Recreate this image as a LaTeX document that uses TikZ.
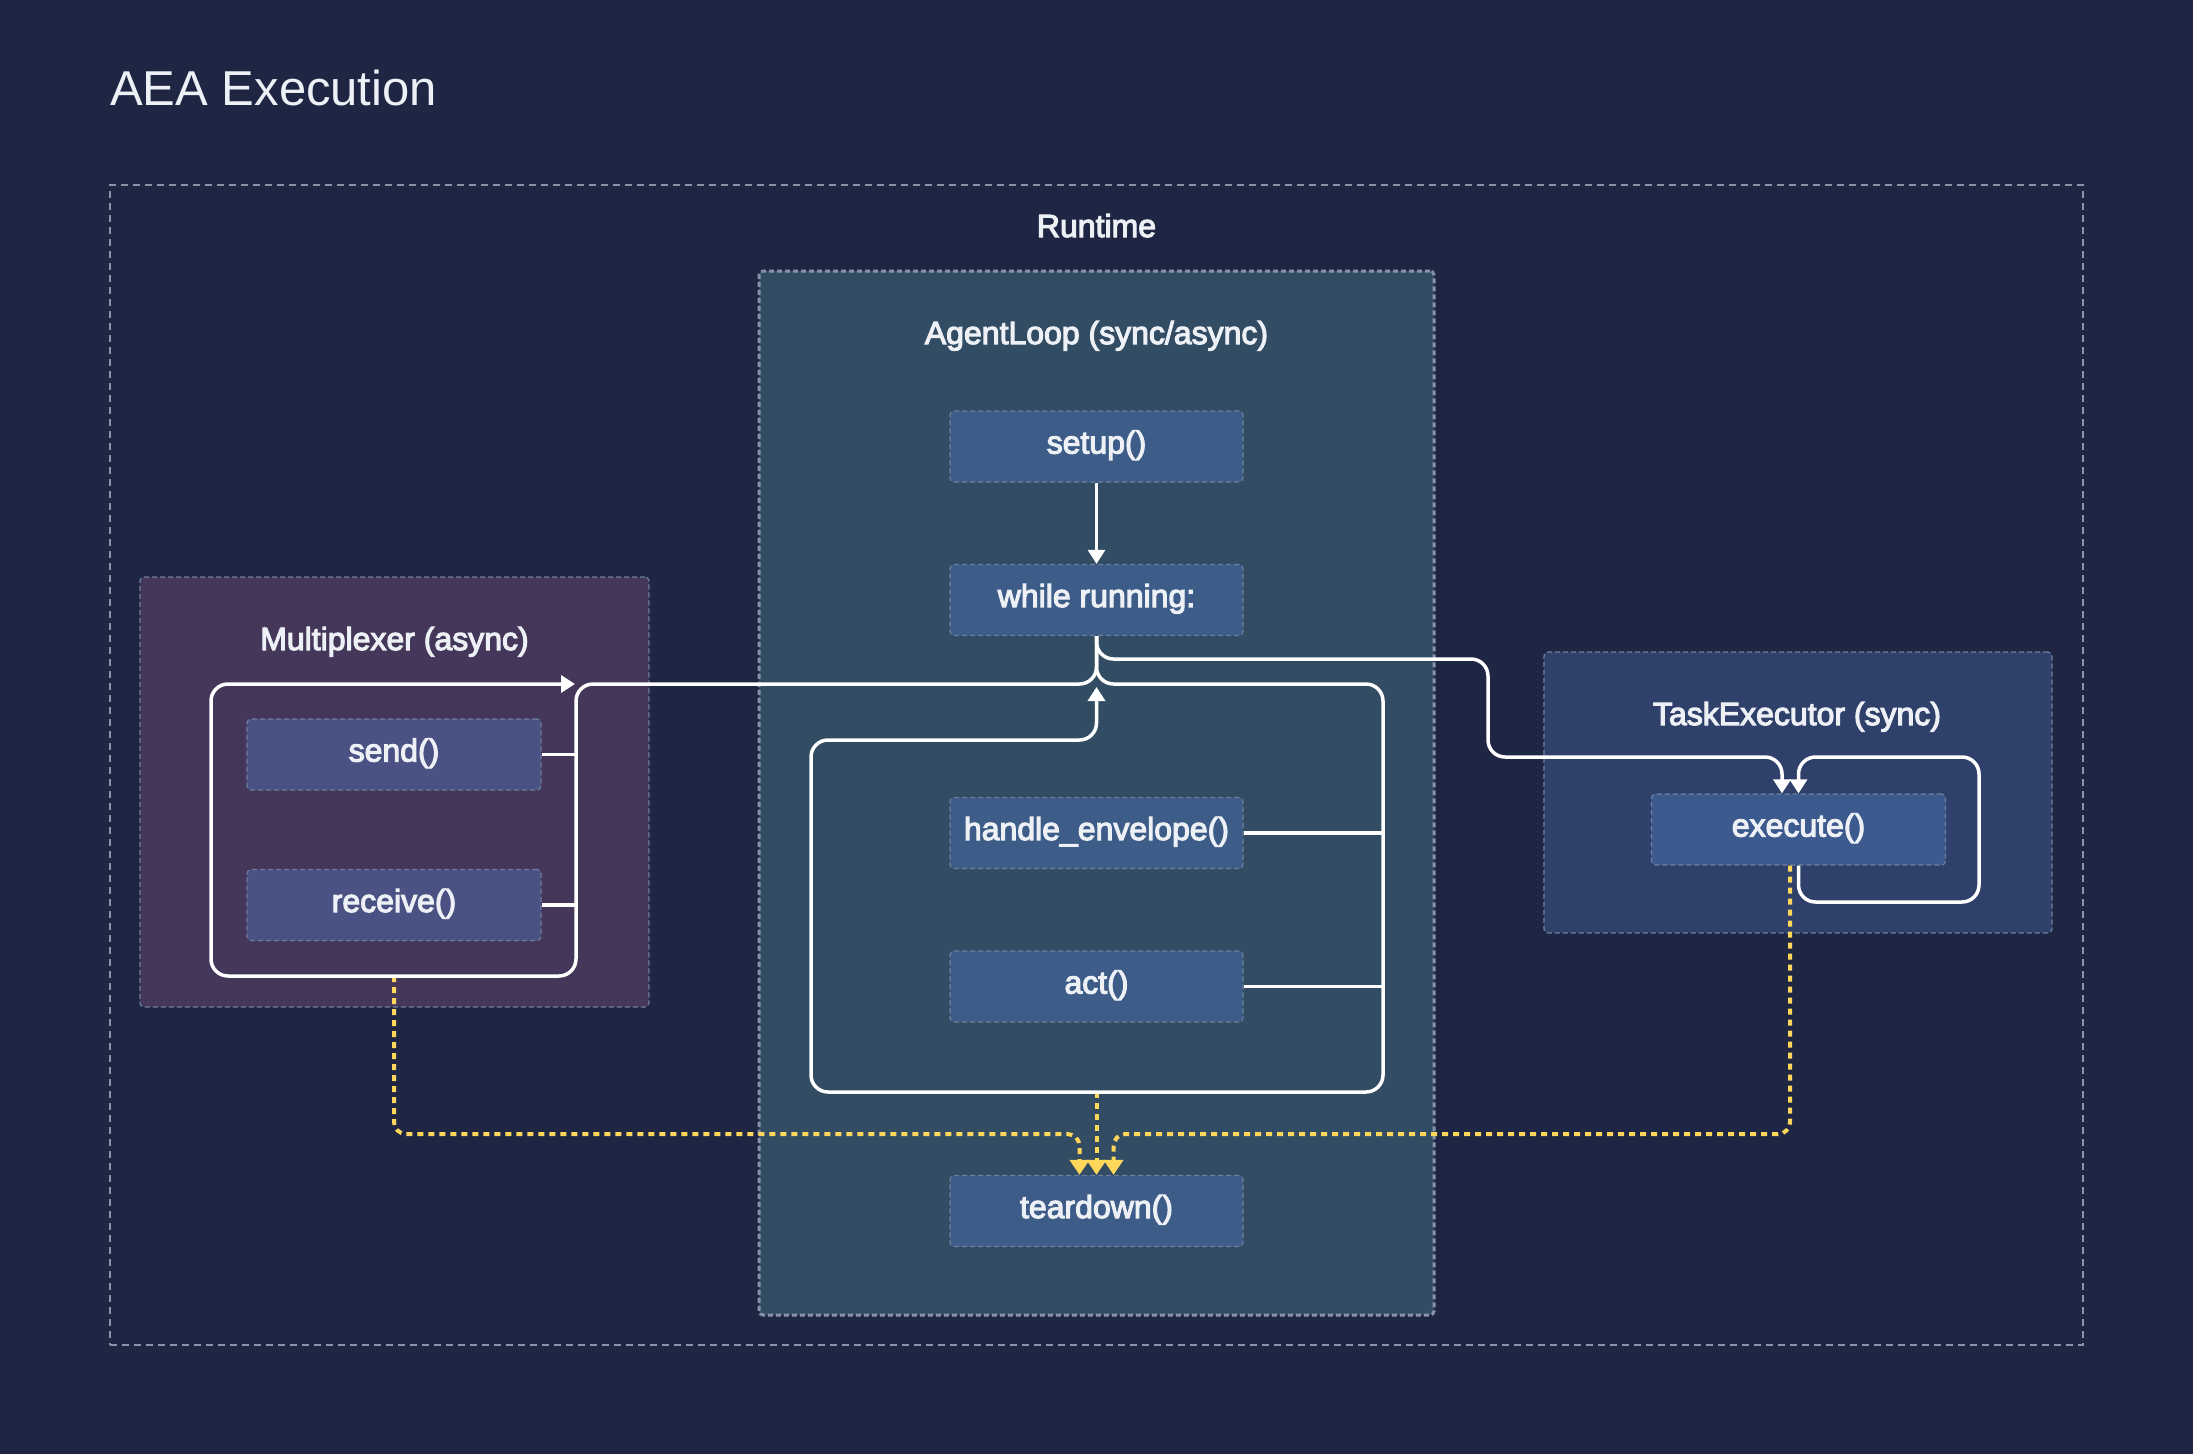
\documentclass[tikz,border=0pt]{standalone}
\usepackage{fontspec}
\setmainfont{Liberation Sans}
\newfontfamily\lblfont[FakeBold=3.5]{Liberation Sans}
\usetikzlibrary{arrows.meta,calc}
\definecolor{bgc}{HTML}{1E2643}
\definecolor{txtc}{HTML}{EDF0F5}
\definecolor{grayln}{HTML}{8A93A7}
\definecolor{boxln}{HTML}{6E7F9E}
\definecolor{alfill}{HTML}{324C63}
\definecolor{fnfill}{HTML}{3D5C88}
\definecolor{muxfill}{HTML}{44375A}
\definecolor{muxfn}{HTML}{4A5183}
\definecolor{tefill}{HTML}{2F416B}
\definecolor{tefn}{HTML}{3C5A8E}
\definecolor{yel}{HTML}{FFD75A}
\tikzset{
  fnbox/.style={rectangle, rounded corners=4pt, draw=boxln, line width=1.2pt,
    dash pattern=on 5pt off 3pt, fill=fnfill, minimum width=293pt, minimum height=71pt,
    text=txtc, font=\lblfont\fontsize{32}{38}\selectfont, inner sep=0pt,
    text height=23pt, text depth=9pt},
  container/.style={rectangle, rounded corners=4pt, draw=boxln, line width=1.2pt,
    dash pattern=on 5pt off 3pt, inner sep=0pt},
  lbl/.style={text=txtc, font=\lblfont\fontsize{32}{38}\selectfont, inner sep=0pt, anchor=base},
  flow/.style={draw=white, line width=3.5pt, rounded corners=17pt},
  ydot/.style={draw=yel, line width=4pt, dash pattern=on 6pt off 5pt, rounded corners=12pt},
  wtip/.style={-{Triangle[width=17pt,length=14pt]}},
  ytip/.style={-{Triangle[width=19pt,length=15pt,fill=yel]}}
}
\begin{document}
\begin{tikzpicture}[x=1pt,y=-1pt]
\fill[bgc] (0,0) rectangle (2193,1454);
\useasboundingbox (0,0) rectangle (2193,1454);

\node[anchor=west, text=txtc, font=\fontsize{49}{58}\selectfont, inner sep=0pt] (title) at (110,88) {AEA Execution};

% containers
\node[rectangle, draw=grayln, line width=1.5pt, dash pattern=on 7pt off 5pt,
  minimum width=1973pt, minimum height=1160pt, inner sep=0pt] (runtime) at (1096.5,765) {};
\node[lbl] (runtimelbl) at (1096.5,237) {Runtime};

\node[rectangle, rounded corners=4pt, fill=alfill, draw=grayln, line width=3pt,
  dash pattern=on 5pt off 3pt, minimum width=675pt, minimum height=1044pt, inner sep=0pt]
  (agentloop) at (1096.5,793) {};
\node[lbl] (agentlooplbl) at (1096.5,344) {AgentLoop (sync/async)};

\node[container, fill=muxfill, minimum width=509pt, minimum height=430pt] (mux) at (394.5,792) {};
\node[lbl] (muxlbl) at (394.5,650) {Multiplexer (async)};

\node[container, fill=tefill, minimum width=508pt, minimum height=281pt] (te) at (1798,792.5) {};
\node[lbl] (telbl) at (1797,725) {TaskExecutor (sync)};

% function boxes
\node[fnbox] (setup) at (1096.5,446.5) {setup()};
\node[fnbox] (while) at (1096.5,600) {while running:};
\node[fnbox] (handle) at (1096.5,833) {handle\_envelope()};
\node[fnbox] (act) at (1096.5,986.5) {act()};
\node[fnbox] (teardown) at (1096.5,1211) {teardown()};
\node[fnbox, fill=muxfn, minimum width=294pt] (send) at (394,754.5) {send()};
\node[fnbox, fill=muxfn, minimum width=294pt] (receive) at (394,905) {receive()};
\node[fnbox, fill=tefn, minimum width=294pt] (execute) at (1798.5,829.5) {execute()};

% loop coordinates
\coordinate (mxTR) at (576,684);
\coordinate (mxBR) at (576,976);
\coordinate (mxBL) at (211,976);
\coordinate (mxTL) at (211,684);
\coordinate (jA) at (1096.5,684);
\coordinate (alTR) at (1383,684);
\coordinate (alBR) at (1383,1092);
\coordinate (alBL) at (811,1092);
\coordinate (alTL) at (811,740);
\coordinate (alRet) at (1096.5,740);
\coordinate (jT) at (1096.5,659);
\coordinate (tA) at (1488,659);
\coordinate (tB) at (1488,757);
\coordinate (exIn) at (1782,757);
\coordinate (exBR) at (1979,902);
\coordinate (exTR) at (1979,757);
\coordinate (ydY) at (0,1134);
\coordinate (tdL) at ($(teardown.north)+(-17,0)$);
\coordinate (tdR) at ($(teardown.north)+(17,0)$);
\coordinate (exOut) at ($(execute.south)+(-8.5,0)$);
\coordinate (exArr) at ($(execute.north)+(-16.5,0)$);
\coordinate (alTop) at ($(jA)+(0,3)$);

% yellow dotted connectors
\draw[ydot, ytip] (receive.south |- mxBL) -- (receive.south |- ydY) -- (tdL |- ydY) -- (tdL);
\draw[ydot, ytip] (teardown.north |- alBL) -- (teardown.north);
\draw[ydot, ytip] (exOut) -- (exOut |- ydY) -- (tdR |- ydY) -- (tdR);

% white flows
\draw[draw=white, line width=2.8pt, wtip] (setup.south) -- (while.north);
\draw[flow, wtip] (while.south) -- (jA) -- (mxTR) -- (mxBR) -- (mxBL) -- (mxTL) -- ($(mxTR)+(-1,0)$);
\draw[flow, wtip] (while.south) -- (jA) -- (alTR) -- (alBR) -- (alBL) -- (alTL) -- (alRet) -- (alTop);
\draw[flow, wtip] (while.south) -- (jT) -- (tA) -- (tB) -- (exIn) -- (exArr);
\draw[flow, wtip] (execute.south) -- (execute.south |- exBR) -- (exBR) -- (exTR) -- (execute.north |- exTR) -- (execute.north);
% stubs
\draw[draw=white, line width=3.5pt] (send.east) -- (send.east -| mxTR);
\draw[draw=white, line width=3.5pt] (receive.east) -- (receive.east -| mxTR);
\draw[draw=white, line width=3.5pt] (handle.east) -- (handle.east -| alTR);
\draw[draw=white, line width=3.5pt] (act.east) -- (act.east -| alTR);
\end{tikzpicture}
\end{document}
